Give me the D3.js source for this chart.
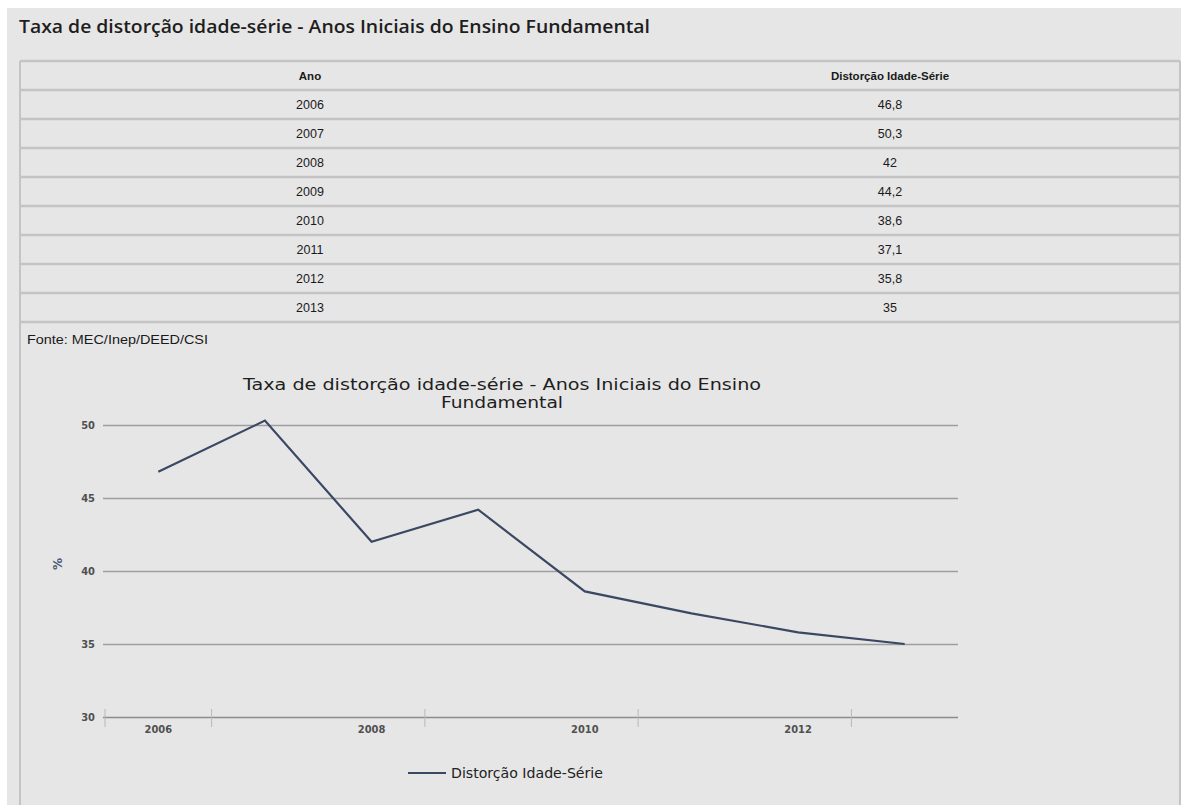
<!DOCTYPE html>
<html>
<head>
<meta charset="utf-8">
<script src="https://cdnjs.cloudflare.com/ajax/libs/d3/7.8.5/d3.min.js"></script>
<style>
  body { margin: 0; background: #fff; }
  svg { display: block; }
</style>
</head>
<body>
<div id="page"></div>
<script>
// values
const years = [2006, 2007, 2008, 2009, 2010, 2011, 2012, 2013];
const rates = [46.8, 50.3, 42, 44.2, 38.6, 37.1, 35.8, 35];
const yTicks = [30, 35, 40, 45, 50];
const xTickYears = [2006, 2008, 2010, 2012];
const tableHeaders = ["Ano", "Distorção Idade-Série"];
const pageTitle = "Taxa de distorção idade-série - Anos Iniciais do Ensino Fundamental";
const chartTitle = ["Taxa de distorção idade-série - Anos Iniciais do Ensino", "Fundamental"];
const chartTitleWidths = [518, 122];
const sourceNote = "Fonte: MEC/Inep/DEED/CSI";
const seriesName = "Distorção Idade-Série";

const layout = {
  width: 1184,
  height: 805,
  panelLeft: 7,
  panelTop: 8,
  tableLeft: 20,
  tableRight: 1180,
  tableTop: 61,
  tableBottom: 322,
  plotLeft: 105,
  plotRight: 958,
  plotTop: 425,
  plotBottom: 717
};

const bg = "#e6e6e6";
const lineColor = "#3b4863";
const ptBr = d3.formatLocale({decimal: ",", thousands: ".", grouping: [3], currency: ["R$", ""]});
const fmtRate = ptBr.format("~");

let svg = d3.select("#page").append("svg")
  .attr("width", layout.width)
  .attr("height", layout.height);

// grey panel
svg.append("rect")
  .attr("x", layout.panelLeft)
  .attr("y", layout.panelTop)
  .attr("width", layout.tableRight + 1 - layout.panelLeft)
  .attr("height", layout.height - layout.panelTop)
  .attr("fill", bg);

svg.append("text")
  .attr("x", 19)
  .attr("y", 33)
  .attr("font-family", "'Open Sans', sans-serif")
  .attr("font-weight", 600)
  .attr("font-size", 18)
  .attr("fill", "#1e1e1e")
  .attr("textLength", 631)
  .attr("lengthAdjust", "spacingAndGlyphs")
  .text(pageTitle);

// TABLE
let rowScale = d3.scaleBand()
  .domain(["header"].concat(years))
  .range([layout.tableTop, layout.tableBottom]);
let colScale = d3.scaleBand()
  .domain([0, 1])
  .range([layout.tableLeft, layout.tableRight]);

let table = svg.append("g").attr("id", "table");

// row separators
table.selectAll("line.row")
  .data(rowScale.domain().map(d => rowScale(d)).concat([layout.tableBottom]))
  .join("line")
  .attr("class", "row")
  .attr("x1", layout.tableLeft)
  .attr("x2", layout.tableRight)
  .attr("y1", d => d)
  .attr("y2", d => d)
  .attr("stroke", "#c4c4c4")
  .attr("stroke-width", 2.5);

// outer sides, running down round the chart as well
[layout.tableLeft, layout.tableRight].forEach(x => {
  table.append("line")
    .attr("x1", x).attr("x2", x)
    .attr("y1", layout.tableTop).attr("y2", layout.height)
    .attr("stroke", "#c4c4c4")
    .attr("stroke-width", 2);
});

table.selectAll("text.head")
  .data(tableHeaders)
  .join("text")
  .attr("class", "head")
  .attr("x", (d, i) => colScale(i) + colScale.bandwidth() / 2)
  .attr("y", rowScale("header") + rowScale.bandwidth() / 2 + 4)
  .attr("text-anchor", "middle")
  .attr("font-family", "Arial, 'Liberation Sans', sans-serif")
  .attr("font-weight", "bold")
  .attr("font-size", 11.5)
  .attr("fill", "#1a1a1a")
  .text(d => d);

let rows = years.map((y, i) => ({year: y, rate: rates[i]}));

table.selectAll("text.year")
  .data(rows)
  .join("text")
  .attr("class", "year")
  .attr("x", colScale(0) + colScale.bandwidth() / 2)
  .attr("y", d => rowScale(d.year) + rowScale.bandwidth() / 2 + 4.5)
  .attr("text-anchor", "middle")
  .attr("font-family", "Arial, 'Liberation Sans', sans-serif")
  .attr("font-size", 12.5)
  .attr("fill", "#1a1a1a")
  .text(d => d.year);

table.selectAll("text.rate")
  .data(rows)
  .join("text")
  .attr("class", "rate")
  .attr("x", colScale(1) + colScale.bandwidth() / 2)
  .attr("y", d => rowScale(d.year) + rowScale.bandwidth() / 2 + 4.5)
  .attr("text-anchor", "middle")
  .attr("font-family", "Arial, 'Liberation Sans', sans-serif")
  .attr("font-size", 12.5)
  .attr("fill", "#1a1a1a")
  .text(d => fmtRate(d.rate));

svg.append("text")
  .attr("x", 27)
  .attr("y", 344)
  .attr("font-family", "Arial, 'Liberation Sans', sans-serif")
  .attr("font-size", 12)
  .attr("fill", "#1a1a1a")
  .attr("textLength", 181)
  .attr("lengthAdjust", "spacingAndGlyphs")
  .text(sourceNote);

// CHART
let xScale = d3.scaleBand()
  .domain(years)
  .range([layout.plotLeft, layout.plotRight]);
let yScale = d3.scaleLinear()
  .domain([30, 50])
  .range([layout.plotBottom, layout.plotTop]);

let chart = svg.append("g").attr("id", "chart");

chart.selectAll("text.title")
  .data(chartTitle)
  .join("text")
  .attr("class", "title")
  .attr("x", 502)
  .attr("y", (d, i) => 390 + i * 18)
  .attr("text-anchor", "middle")
  .attr("font-family", "'DejaVu Sans', sans-serif")
  .attr("font-size", 16)
  .attr("fill", "#1e1e1e")
  .attr("textLength", (d, i) => chartTitleWidths[i])
  .attr("lengthAdjust", "spacingAndGlyphs")
  .text(d => d);

// y axis: gridlines with labels
let yAxis = chart.append("g")
  .attr("transform", `translate(${layout.plotLeft},0)`)
  .call(d3.axisLeft(yScale)
    .tickValues(yTicks)
    .tickSize(-(layout.plotRight - layout.plotLeft + 2))
    .tickPadding(10));
yAxis.select(".domain").remove();
yAxis.selectAll(".tick line")
  .attr("transform", "translate(-2,0)")
  .attr("stroke", d => d === 30 ? "#8c8c8c" : "#9e9e9e")
  .attr("stroke-width", 1.3);
yAxis.selectAll("text")
  .attr("font-family", "'DejaVu Sans Condensed', 'DejaVu Sans', sans-serif")
  .attr("font-weight", "bold")
  .attr("font-size", 11)
  .attr("fill", "#505050");

chart.append("text")
  .attr("transform", "translate(62,564) rotate(-90)")
  .attr("text-anchor", "middle")
  .attr("font-family", "'DejaVu Sans', sans-serif")
  .attr("font-weight", "bold")
  .attr("font-size", 12)
  .attr("fill", "#4a5a78")
  .text("%");

// x axis: labels at every second year, ticks on band edges
let xAxis = chart.append("g")
  .attr("transform", `translate(0,${layout.plotBottom})`)
  .call(d3.axisBottom(xScale)
    .tickValues(xTickYears)
    .tickSize(0)
    .tickPadding(8));
xAxis.select(".domain").remove();
xAxis.selectAll("text")
  .attr("font-family", "'DejaVu Sans Condensed', 'DejaVu Sans', sans-serif")
  .attr("font-weight", "bold")
  .attr("font-size", 11)
  .attr("fill", "#505050");

let edges = [layout.plotLeft].concat(xTickYears.map(d => xScale(d) + xScale.bandwidth()));
chart.selectAll("line.xtick")
  .data(edges)
  .join("line")
  .attr("class", "xtick")
  .attr("x1", d => d).attr("x2", d => d)
  .attr("y1", layout.plotBottom - 8)
  .attr("y2", layout.plotBottom + 10)
  .attr("stroke", "#b8b8b8")
  .attr("stroke-width", 1);

chart.append("path")
  .datum(rows)
  .attr("fill", "none")
  .attr("stroke", lineColor)
  .attr("stroke-width", 2.2)
  .attr("stroke-linejoin", "miter")
  .attr("d", d3.line()
    .x(d => xScale(d.year) + xScale.bandwidth() / 2)
    .y(d => yScale(d.rate)));

// legend
let legend = chart.append("g").attr("transform", "translate(408,773)");
legend.append("line")
  .attr("x1", 0).attr("x2", 38)
  .attr("stroke", lineColor)
  .attr("stroke-width", 2);
legend.append("text")
  .attr("x", 43)
  .attr("y", 5)
  .attr("font-family", "'DejaVu Sans Condensed', 'DejaVu Sans', sans-serif")
  .attr("font-size", 13.5)
  .attr("fill", "#222")
  .attr("textLength", 152)
  .attr("lengthAdjust", "spacingAndGlyphs")
  .text(seriesName);
</script>
</body>
</html>
